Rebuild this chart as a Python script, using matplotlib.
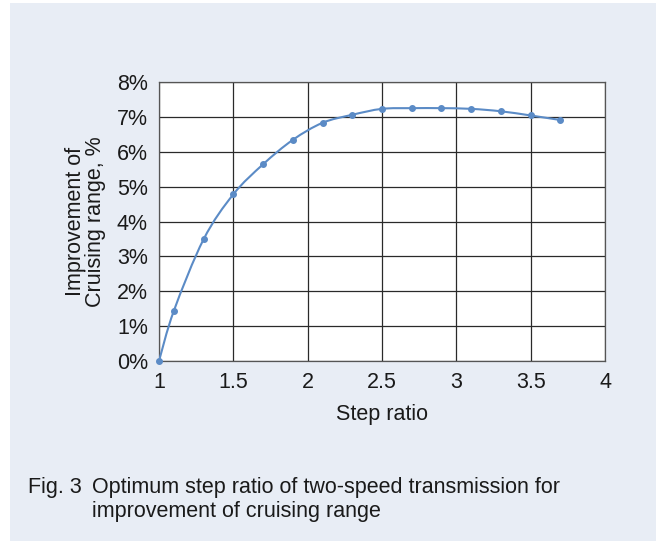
import numpy as np
import matplotlib
matplotlib.use("Agg")
import matplotlib.pyplot as plt
from matplotlib.path import Path
from matplotlib.patches import PathPatch, Rectangle

plt.rcParams['font.family'] = ['Liberation Sans', 'DejaVu Sans']

# step ratio vs. improvement of cruising range (%)
step_ratio = [1.0, 1.1, 1.3, 1.5, 1.7, 1.9, 2.1, 2.3, 2.5, 2.7, 2.9, 3.1, 3.3, 3.5, 3.7]
improvement = [0.0, 1.44, 3.49, 4.78, 5.64, 6.34, 6.83, 7.06, 7.23, 7.25, 7.25, 7.23, 7.16, 7.04, 6.91]
x_ticks = [1, 1.5, 2, 2.5, 3, 3.5, 4]
y_ticks = [0, 1, 2, 3, 4, 5, 6, 7, 8]

line_color = '#5b8bc6'
panel_color = '#e8edf5'
text_color = '#1a1a1a'
fs = 15.5


def smooth_path(xs, ys):
    # cubic bezier through every point, excel-style smoothed line
    pts = np.column_stack([xs, ys])
    n = len(pts)
    verts = [pts[0]]
    codes = [Path.MOVETO]
    for i in range(n - 1):
        p0 = pts[max(i - 1, 0)]
        p1 = pts[i]
        p2 = pts[i + 1]
        p3 = pts[min(i + 2, n - 1)]
        c1 = p1 + (p2 - p0) / 6.0
        c2 = p2 - (p3 - p1) / 6.0
        verts += [c1, c2, p2]
        codes += [Path.CURVE4] * 3
    return Path(verts, codes)


fig = plt.figure(figsize=(6.56, 5.45), dpi=100, facecolor='white')
fig.patches.append(Rectangle((10 / 656, 4 / 545), 646 / 656, 538 / 545,
                             transform=fig.transFigure, facecolor=panel_color,
                             edgecolor='none', zorder=-10))

ax = fig.add_axes([159 / 656, 1 - 361 / 545, 446 / 656, 279 / 545])
ax.set_facecolor('white')

ax.add_patch(PathPatch(smooth_path(step_ratio, improvement), facecolor='none',
                       edgecolor=line_color, lw=1.5, zorder=3))
ax.plot(step_ratio, improvement, linestyle='none', marker='o', markersize=4,
        color=line_color, zorder=4, clip_on=False)

ax.set_xlim(1, 4)
ax.set_ylim(0, 8)
ax.set_xticks(x_ticks)
ax.set_xticklabels([f'{t:g}' for t in x_ticks])
ax.set_yticks(y_ticks)
ax.set_yticklabels([f'{t}%' for t in y_ticks])
ax.tick_params(length=0, labelsize=fs, colors=text_color)
ax.tick_params(axis='x', pad=8)
ax.tick_params(axis='y', pad=8)
ax.grid(True, color='#2a2a2a', lw=0.9)
ax.set_axisbelow(True)
for s in ax.spines.values():
    s.set_color('#555555')
    s.set_linewidth(0.9)

ax.set_xlabel('Step ratio', fontsize=fs, color=text_color, labelpad=8)
ax.set_ylabel('Improvement of\nCruising range, %', fontsize=fs, color=text_color,
              labelpad=8, linespacing=0.92)

fig.text(28 / 656, 1 - 488 / 545, 'Fig. 3', fontsize=fs, color=text_color, va='center')
fig.text(92 / 656, 1 - 488 / 545, 'Optimum step ratio of two-speed transmission for',
         fontsize=fs, color=text_color, va='center')
fig.text(92 / 656, 1 - 511 / 545, 'improvement of cruising range',
         fontsize=fs, color=text_color, va='center')

fig.savefig('out.png', dpi=100, facecolor=fig.get_facecolor())
